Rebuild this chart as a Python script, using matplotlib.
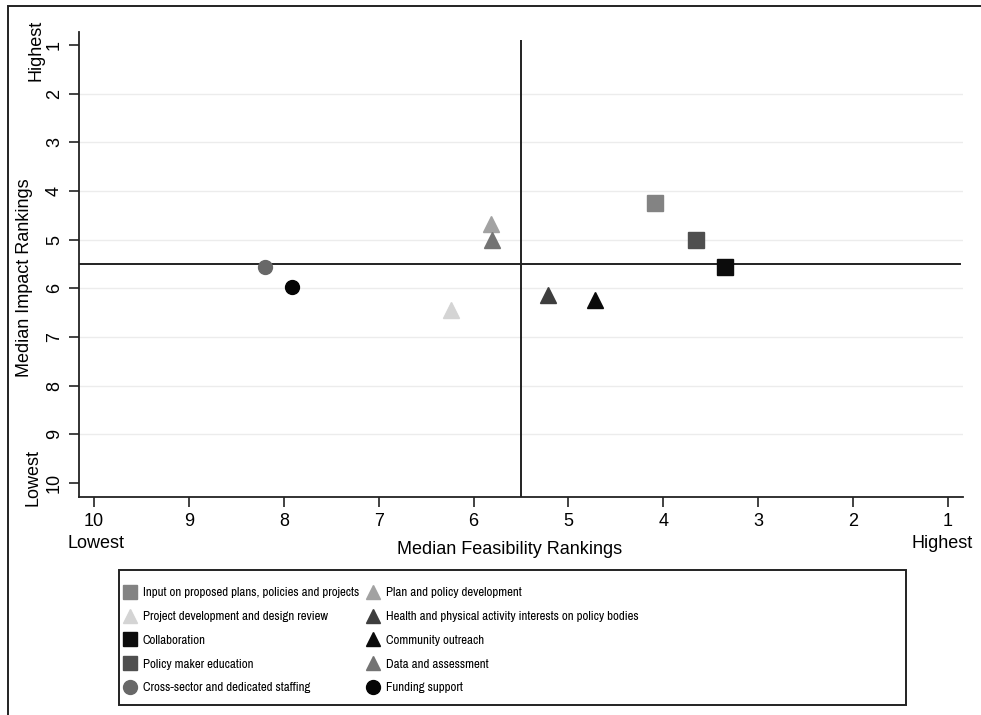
import matplotlib
matplotlib.use("Agg")
import matplotlib.pyplot as plt
from matplotlib.lines import Line2D
from matplotlib.patches import Rectangle

# data (median rankings, 1 = highest)
labels = [
    "Input on proposed plans, policies and projects",
    "Project development and design review",
    "Collaboration",
    "Policy maker education",
    "Cross-sector and dedicated staffing",
    "Plan and policy development",
    "Health and physical activity interests on policy bodies",
    "Community outreach",
    "Data and assessment",
    "Funding support",
]
feasibility = [4.09, 6.24, 3.35, 3.66, 8.20, 5.82, 5.22, 4.72, 5.81, 7.91]
impact = [4.24, 6.45, 5.56, 5.0, 5.56, 4.68, 6.13, 6.23, 5.0, 5.97]
markers = ["s", "^", "s", "s", "o", "^", "^", "^", "^", "o"]
colors = ["#838383", "#d4d4d4", "#0c0c0c", "#4f4f4f", "#686868",
          "#a2a2a2", "#3e3e3e", "#0a0a0a", "#737373", "#050505"]
ticks = list(range(1, 11))
cut_x = 5.5
cut_y = 5.5

W, H = 981, 715
plt.rcParams["font.family"] = ["Liberation Sans", "DejaVu Sans"]

fig = plt.figure(figsize=(W / 100, H / 100), dpi=100)
ax = fig.add_axes([79 / W, (H - 497) / H, (963 - 79) / W, (497 - 32) / H])

sizes = {"s": 11.5, "^": 12, "o": 10}
for fx, iy, m, c in zip(feasibility, impact, markers, colors):
    ax.plot(fx, iy, marker=m, color=c, markersize=sizes[m], linestyle="none", zorder=5)

ax.set_xlim(10.16, 0.84)
ax.set_ylim(10.29, 0.73)

for t in ticks[1:-1]:
    ax.axhline(t, color="#ececec", lw=1.0, zorder=0)
ax.axhline(cut_y, color="#222222", lw=1.4, xmax=0.997, zorder=3)
ax.vlines(cut_x, 10.29, 0.9, color="#222222", lw=1.4, zorder=3)

ax.set_xticks(ticks)
ax.set_yticks(ticks)
ax.set_xticklabels([str(t) for t in ticks], fontsize=13)
ax.set_yticklabels([str(t) for t in ticks], fontsize=13, rotation=90, va="center")
ax.tick_params(axis="both", length=7.5, width=1.2, color="#222222", pad=4)
for s in ["top", "right"]:
    ax.spines[s].set_visible(False)
for s in ["left", "bottom"]:
    ax.spines[s].set_linewidth(1.3)
    ax.spines[s].set_color("#222222")

fig.text(510 / W, 1 - 550 / H, "Median Feasibility Rankings", fontsize=13,
         ha="center", va="center")
fig.text(96 / W, 1 - 543 / H, "Lowest", fontsize=13, ha="center", va="center")
fig.text(942 / W, 1 - 543 / H, "Highest", fontsize=13, ha="center", va="center")
fig.text(25 / W, 1 - 278 / H, "Median Impact Rankings", fontsize=13,
         ha="center", va="center", rotation=90)
fig.text(36 / W, 1 - 50 / H, "Highest", fontsize=13, ha="center", va="center", rotation=90)
fig.text(33 / W, 1 - 477 / H, "Lowest", fontsize=13, ha="center", va="center", rotation=90)

# legend: two columns placed separately
handles = [Line2D([], [], marker=m, color=c, linestyle="none", markersize=10)
           for m, c in zip(markers, colors)]
leg_kw = dict(loc="upper left", frameon=False,
              prop={"family": ["Archivo Narrow", "Liberation Sans"], "size": 9.3},
              handlelength=1.0, handletextpad=0.5, labelspacing=0.98, borderpad=0.0)
fig.legend(handles[:5], labels[:5], bbox_to_anchor=(117 / W, 1 - 581 / H), **leg_kw)
fig.legend(handles[5:], labels[5:], bbox_to_anchor=(360 / W, 1 - 581 / H), **leg_kw)
fig.patches.append(Rectangle((119 / W, (H - 705) / H), (906 - 119) / W, 135 / H,
                             transform=fig.transFigure, fill=False,
                             edgecolor="#222222", lw=1.4))

# outer frame
fig.patches.append(Rectangle((8 / W, -0.02), 1.0, (H - 6) / H + 0.02,
                             transform=fig.transFigure, fill=False,
                             edgecolor="#222222", lw=1.4))

fig.savefig("out.png", dpi=100)
